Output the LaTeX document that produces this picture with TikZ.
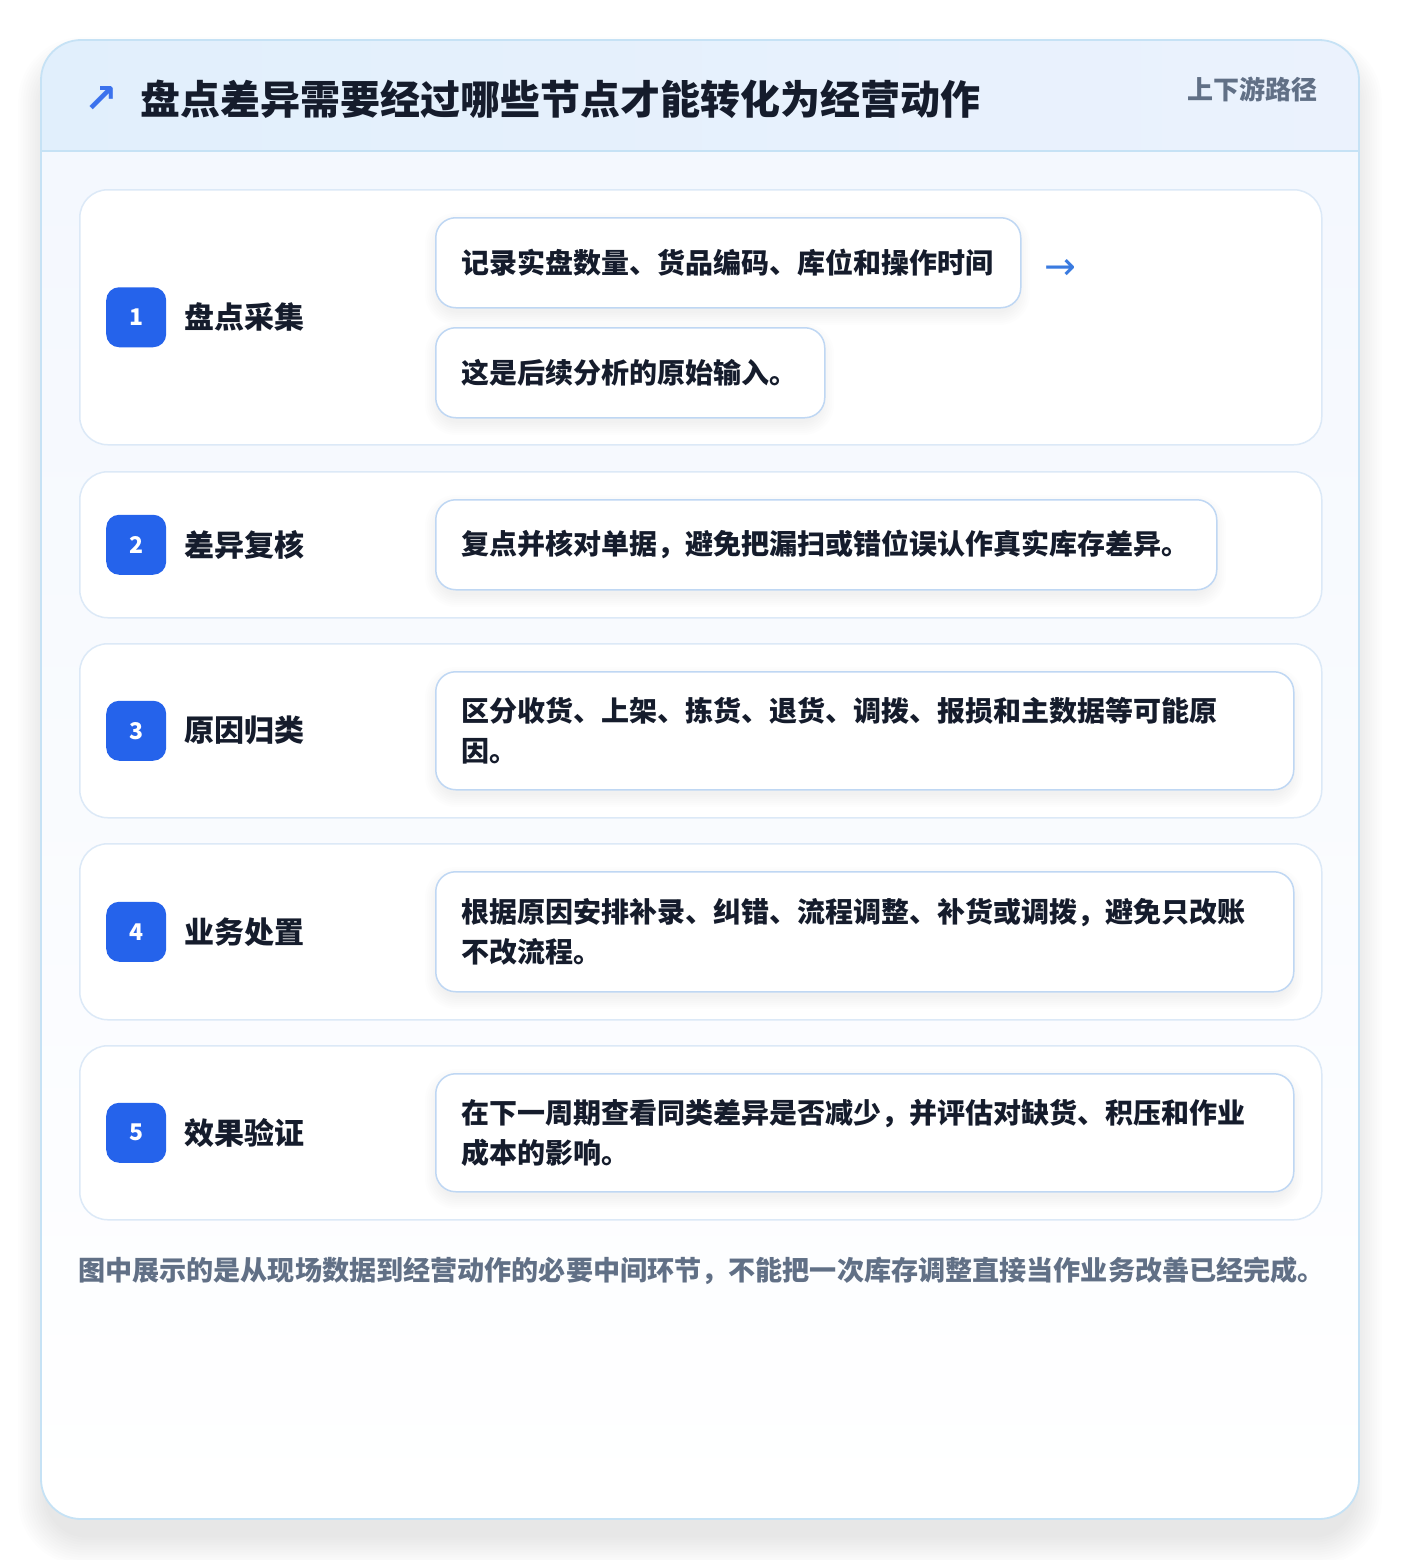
\documentclass[tikz,border=0pt]{standalone}
\usepackage{fontspec}
\setmainfont{Noto Sans CJK SC}
\newfontfamily\symfont{DejaVu Sans}
\usetikzlibrary{positioning}

\definecolor{ink}{HTML}{151C2C}
\definecolor{muted}{HTML}{617086}
\definecolor{badgeblue}{HTML}{2563EB}
\definecolor{cardline}{HTML}{C6E2F5}
\definecolor{headleft}{HTML}{E1EFFC}
\definecolor{headright}{HTML}{EBF2FD}
\definecolor{rowline}{HTML}{DCE9F7}
\definecolor{boxline}{HTML}{BFD7F3}
\definecolor{arrowblue}{HTML}{3A7BE0}

\begin{document}
\begin{tikzpicture}[x=1pt,y=-1pt]
    \tikzstyle{row}=[rectangle,draw=rowline,line width=1.5pt,fill=white,rounded corners=28pt,anchor=north west,minimum width=1242pt,inner sep=0pt]
    \tikzstyle{badge}=[rectangle,rounded corners=13pt,fill=badgeblue,text=white,minimum size=60pt,inner sep=0pt,font=\fontsize{23}{23}\selectfont\bfseries]
    \tikzstyle{steplabel}=[inner sep=0pt,text=ink,font=\fontsize{30}{30}\selectfont\bfseries]
    \tikzstyle{textbox}=[rectangle,draw=boxline,line width=1.5pt,fill=white,rounded corners=20pt,anchor=north west,inner xsep=26pt,inner ysep=0pt,align=left,text=ink,font=\fontsize{28}{40}\selectfont\bfseries]
    \tikzstyle{boxshadow}=[fill=black,opacity=0.009]

    \useasboundingbox (0,0) rectangle (1400,1560);
    \fill[white] (0,0) rectangle (1400,1560);

    % Shadow under the card
    \foreach \i in {1,...,12}
        \fill[black,opacity=0.008,rounded corners=40pt+2*\i pt]
            (41+6-2.4*\i,40+26-2.4*\i) rectangle (1359-6+2.4*\i,1519+16+2.5*\i);

    % Card and its header band
    \fill[top color=headright!60,bottom color=white,rounded corners=40pt] (41,40) rectangle (1359,1519);
    \begin{scope}
        \clip[rounded corners=40pt] (41,40) rectangle (1359,1519);
        \shade[left color=headleft,right color=headright] (41,40) rectangle (1359,151);
        \draw[cardline,line width=1.5pt] (41,151) -- (1359,151);
    \end{scope}
    \draw[cardline,line width=1.8pt,rounded corners=40pt] (41,40) rectangle (1359,1519);

    % Title
    \node[text=badgeblue!90,inner sep=0pt,font=\fontsize{40}{40}\symfont\bfseries] (icon) at (101,100) {↗};
    \node[anchor=west,inner sep=0pt,text=ink,font=\fontsize{40}{40}\selectfont\bfseries] (title) at (140,99)
        {盘点差异需要经过哪些节点才能转化为经营动作};
    \node[anchor=east,inner sep=0pt,text=muted,font=\fontsize{26}{26}\selectfont\bfseries] (tag) at (1318,89) {上下游路径};

    % Draw the rows, badges and step names
    \foreach \n/\rowtop/\rowh/\name in {1/189/255/盘点采集, 2/471/146/差异复核, 3/643/174/原因归类, 4/843/176/业务处置, 5/1045/174/效果验证}
    {
        \node[row,minimum height=\rowh pt] (R-\n) at (79,\rowtop) {};
        \node[badge,right=27pt of R-\n.west] (B-\n) {\n};
        \node[steplabel,right=18pt of B-\n] (L-\n) {\name};
    }

    % Soft shadows of the text boxes
    \foreach \bx/\by/\bw/\bh in {435/217/585/90, 435/327/389/90, 435/499/781/90, 435/671/858/118, 435/871/858/120, 435/1073/858/118}
        \foreach \k in {1,...,7}
            \fill[boxshadow,rounded corners=20pt+1.5*\k pt] (\bx+4-2*\k,\by+10-2*\k) rectangle (\bx+\bw-4+2*\k,\by+\bh+4+2*\k);

    % Text boxes
    \node[textbox,text width=533pt,minimum height=90pt] (T-1a) at (435,217) {记录实盘数量、货品编码、库位和操作时间};
    \node[textbox,text width=337pt,minimum height=90pt] (T-1b) at (435,327) {这是后续分析的原始输入。};
    \node[textbox,text width=729pt,minimum height=90pt] (T-2) at (435,499) {复点并核对单据，避免把漏扫或错位误认作真实库存差异。};
    \node[textbox,text width=806pt,minimum height=118pt] (T-3) at (435,671)
        {区分收货、上架、拣货、退货、调拨、报损和主数据等可能原\\因。};
    \node[textbox,text width=806pt,minimum height=120pt] (T-4) at (435,871)
        {根据原因安排补录、纠错、流程调整、补货或调拨，避免只改账\\不改流程。};
    \node[textbox,text width=806pt,minimum height=118pt] (T-5) at (435,1073)
        {在下一周期查看同类差异是否减少，并评估对缺货、积压和作业\\成本的影响。};

    \node[right=23pt of T-1a,yshift=-7pt,inner sep=0pt,text=arrowblue,font=\fontsize{38}{38}\symfont] (next) {→};

    % Footnote
    \node[anchor=west,inner sep=0pt,text=muted,font=\fontsize{27.1}{27.1}\selectfont\bfseries] (note) at (78,1271)
        {图中展示的是从现场数据到经营动作的必要中间环节，不能把一次库存调整直接当作业务改善已经完成。};

\end{tikzpicture}
\end{document}
